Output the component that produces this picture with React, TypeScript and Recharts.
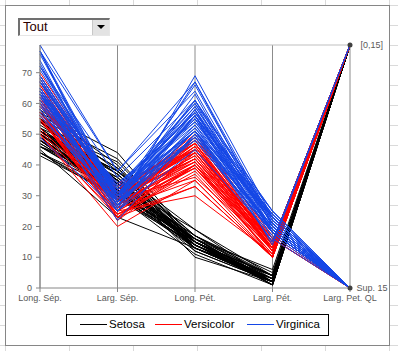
import {
  LineChart,
  Line,
  XAxis,
  YAxis,
  CartesianGrid,
  ReferenceLine,
  ReferenceDot
} from "recharts";

// axes of the parallel plot
const AXES = ["Long. Sép.", "Larg. Sép.", "Long. Pét.", "Larg. Pét.", "Larg. Pet. QL"];
const Y_TICKS = [0, 10, 20, 30, 40, 50, 60, 70];
const Y_MAX = 79;
const QL_LABELS = ["[0,15]", "Sup. 15"];
const QL_LIMIT = 15;

// long. sép, larg. sép, long. pét, larg. pét (mm)
const setosa = [
  [51, 35, 14, 2], [49, 30, 14, 2], [47, 32, 13, 2], [46, 31, 15, 2], [50, 36, 14, 2],
  [54, 39, 17, 4], [46, 34, 14, 3], [50, 34, 15, 2], [44, 29, 14, 2], [49, 31, 15, 1],
  [54, 37, 15, 2], [48, 34, 16, 2], [48, 30, 14, 1], [43, 30, 11, 1], [58, 40, 12, 2],
  [57, 44, 15, 4], [54, 39, 13, 4], [51, 35, 14, 3], [57, 38, 17, 3], [51, 38, 15, 3],
  [54, 34, 17, 2], [51, 37, 15, 4], [46, 36, 10, 2], [51, 33, 17, 5], [48, 34, 19, 2],
  [50, 30, 16, 2], [50, 34, 16, 4], [52, 35, 15, 2], [52, 34, 14, 2], [47, 32, 16, 2],
  [48, 31, 16, 2], [54, 34, 15, 4], [52, 41, 15, 1], [55, 42, 14, 2], [49, 31, 15, 1],
  [50, 32, 12, 2], [55, 35, 13, 2], [49, 31, 15, 1], [44, 30, 13, 2], [51, 34, 15, 2],
  [50, 35, 13, 3], [45, 23, 13, 3], [44, 32, 13, 2], [50, 35, 16, 6], [51, 38, 19, 4],
  [48, 30, 14, 3], [51, 38, 16, 2], [46, 32, 14, 2], [53, 37, 15, 2], [50, 33, 14, 2]
];

const versicolor = [
  [70, 32, 47, 14], [64, 32, 45, 15], [69, 31, 49, 15], [55, 23, 40, 13], [65, 28, 46, 15],
  [57, 28, 45, 13], [63, 33, 47, 16], [49, 24, 33, 10], [66, 29, 46, 13], [52, 27, 39, 14],
  [50, 20, 35, 10], [59, 30, 42, 15], [60, 22, 40, 10], [61, 29, 47, 14], [56, 29, 36, 13],
  [67, 31, 44, 14], [56, 30, 45, 15], [58, 27, 41, 10], [62, 22, 45, 15], [56, 25, 39, 11],
  [59, 32, 48, 18], [61, 28, 40, 13], [63, 25, 49, 15], [61, 28, 47, 12], [64, 29, 43, 13],
  [66, 30, 44, 14], [68, 28, 48, 14], [67, 30, 50, 17], [60, 29, 45, 15], [57, 26, 35, 10],
  [55, 24, 38, 11], [55, 24, 37, 10], [58, 27, 39, 12], [60, 27, 51, 16], [54, 30, 45, 15],
  [60, 34, 45, 16], [67, 31, 47, 15], [63, 23, 44, 13], [56, 30, 41, 13], [55, 25, 40, 13],
  [55, 26, 44, 12], [61, 30, 46, 14], [58, 26, 40, 12], [50, 23, 33, 10], [56, 27, 42, 13],
  [57, 30, 42, 12], [57, 29, 42, 13], [62, 29, 43, 13], [51, 25, 30, 11], [57, 28, 41, 13]
];

const virginica = [
  [63, 33, 60, 25], [58, 27, 51, 19], [71, 30, 59, 21], [63, 29, 56, 18], [65, 30, 58, 22],
  [76, 30, 66, 21], [49, 25, 45, 17], [73, 29, 63, 18], [67, 25, 58, 18], [72, 36, 61, 25],
  [65, 32, 51, 20], [64, 27, 53, 19], [68, 30, 55, 21], [57, 25, 50, 20], [58, 28, 51, 24],
  [64, 32, 53, 23], [65, 30, 55, 18], [77, 38, 67, 22], [77, 26, 69, 23], [60, 22, 50, 15],
  [69, 32, 57, 23], [56, 28, 49, 20], [77, 28, 67, 20], [63, 27, 49, 18], [67, 33, 57, 21],
  [72, 32, 60, 18], [62, 28, 48, 18], [61, 30, 49, 18], [64, 28, 56, 21], [72, 30, 58, 16],
  [74, 28, 61, 19], [79, 38, 64, 20], [64, 28, 56, 22], [63, 28, 51, 15], [61, 26, 56, 14],
  [77, 30, 61, 23], [63, 34, 56, 24], [64, 31, 55, 18], [60, 30, 48, 18], [69, 31, 54, 21],
  [67, 31, 56, 24], [69, 31, 51, 23], [58, 27, 51, 19], [68, 32, 59, 23], [67, 33, 57, 25],
  [67, 30, 52, 23], [63, 25, 50, 19], [65, 30, 52, 20], [62, 34, 54, 23], [59, 30, 51, 18]
];

const SPECIES = [
  { name: "Setosa", key: "s", color: "#000000", rows: setosa },
  { name: "Versicolor", key: "v", color: "#FF0000", rows: versicolor },
  { name: "Virginica", key: "g", color: "#1446E6", rows: virginica }
];

// one row per axis, one key per flower
const data = AXES.map((axis, i) => {
  const row: Record<string, any> = { axis };
  SPECIES.forEach((sp) => {
    sp.rows.forEach((r, j) => {
      row[`${sp.key}${j}`] = i < 4 ? r[i] : r[3] <= QL_LIMIT ? Y_MAX : 0;
    });
  });
  return row;
});

const FONT = "'Liberation Sans', Arial, sans-serif";

const ComboBox = () => (
  <div
    style={{
      position: "absolute",
      left: 12,
      top: 12,
      width: 92,
      height: 18,
      boxSizing: "border-box",
      borderTop: "2px solid #707070",
      borderLeft: "2px solid #707070",
      borderBottom: "1px solid #e6e6e6",
      borderRight: "1px solid #e6e6e6",
      background: "#fff",
      fontFamily: FONT,
      fontSize: 13,
      color: "#2b0000"
    }}
  >
    <span style={{ position: "absolute", left: 3, top: -1 }}>Tout</span>
    <div
      style={{
        position: "absolute",
        right: 0,
        top: 0,
        width: 16,
        height: 15,
        background: "#e3e3e3",
        borderLeft: "1px solid #c8c8c8"
      }}
    >
      <div
        style={{
          position: "absolute",
          left: 4,
          top: 5,
          width: 0,
          height: 0,
          borderLeft: "4px solid transparent",
          borderRight: "4px solid transparent",
          borderTop: "4px solid #000"
        }}
      />
    </div>
  </div>
);

const LegendBox = () => (
  <div
    style={{
      position: "absolute",
      left: 66,
      top: 314,
      width: 263,
      height: 22,
      boxSizing: "border-box",
      border: "1px solid #000",
      background: "#fff",
      fontFamily: FONT,
      fontSize: 11.5,
      color: "#000"
    }}
  >
    {SPECIES.map((sp, i) => (
      <div
        key={sp.name}
        style={{
          position: "absolute",
          left: [13, 88, 180][i],
          top: 3,
          display: "flex",
          alignItems: "center",
          whiteSpace: "nowrap"
        }}
      >
        <div style={{ width: 27, height: 1, background: sp.color, marginRight: 2 }} />
        <span>{sp.name}</span>
      </div>
    ))}
  </div>
);

export default function App() {
  return (
    <div
      style={{
        position: "absolute",
        left: 0,
        top: 0,
        width: 398,
        height: 351,
        overflow: "hidden",
        background: "#fff",
        backgroundImage:
          "linear-gradient(#dadada 1px, transparent 1px), linear-gradient(90deg, #dadada 1px, transparent 1px)",
        backgroundSize: "64px 20px",
        backgroundPosition: "5px 5px"
      }}
    >
      <div
        style={{
          position: "absolute",
          left: 5,
          top: 5,
          width: 385,
          height: 341,
          boxSizing: "border-box",
          border: "1px solid #868686",
          background: "#fff"
        }}
      >
        <LineChart
          width={383}
          height={339}
          data={data}
          margin={{ top: 39, right: 39, left: 0, bottom: 0 }}
        >
          <CartesianGrid vertical horizontal={false} stroke="#8c8c8c" />
          <XAxis
            dataKey="axis"
            height={57}
            interval={0}
            stroke="#868686"
            tickSize={4}
            tickMargin={3}
            tick={{ fill: "#595959", fontSize: 9, fontFamily: FONT }}
          />
          <YAxis
            width={34}
            domain={[0, Y_MAX]}
            ticks={Y_TICKS}
            stroke="#868686"
            tickSize={4}
            tickMargin={4}
            tick={{ fill: "#595959", fontSize: 9, fontFamily: FONT }}
          />
          <ReferenceLine y={Y_MAX} stroke="#bfbfbf" />
          {SPECIES.map((sp) =>
            sp.rows.map((_, j) => (
              <Line
                key={`${sp.key}${j}`}
                dataKey={`${sp.key}${j}`}
                stroke={sp.color}
                strokeWidth={1}
                dot={false}
                activeDot={false}
                isAnimationActive={false}
              />
            ))
          )}
          {[Y_MAX, 0].map((y, i) => (
            <ReferenceDot
              key={QL_LABELS[i]}
              x={AXES[4]}
              y={y}
              r={2.5}
              fill="#404040"
              stroke="none"
              ifOverflow="visible"
              label={{
                value: QL_LABELS[i],
                position: "right",
                offset: i === 0 ? 8 : 4,
                fill: "#595959",
                fontSize: 9,
                fontFamily: FONT
              }}
            />
          ))}
        </LineChart>
        <ComboBox />
      </div>
      <LegendBox />
    </div>
  );
}
